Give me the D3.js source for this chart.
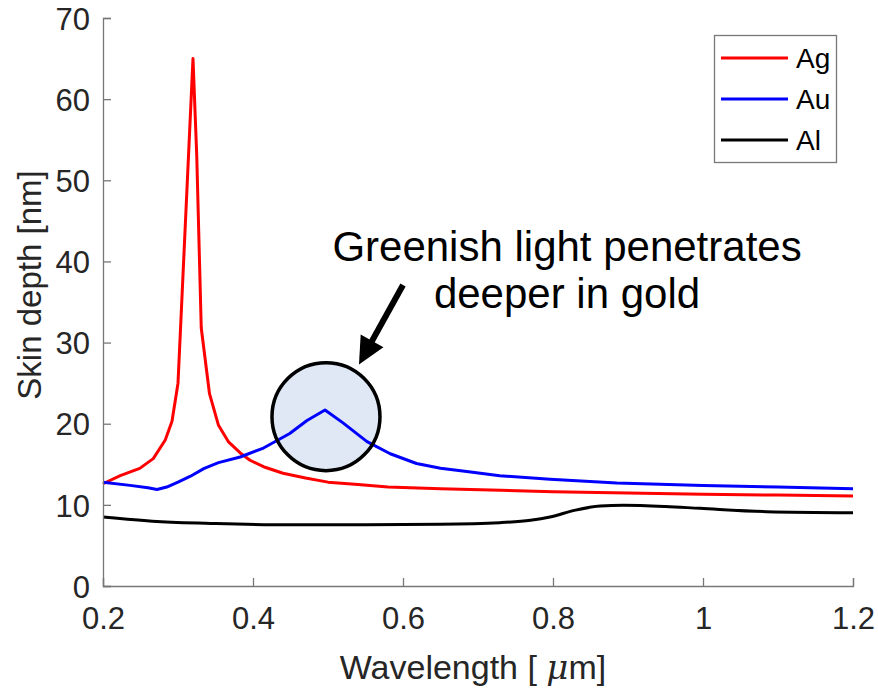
<!DOCTYPE html>
<html><head><meta charset="utf-8">
<script src="https://cdn.jsdelivr.net/npm/d3@7"></script>
<style>body{margin:0;background:#fff}svg{display:block}text{font-family:"Liberation Sans",Arial,sans-serif}</style>
</head><body><svg id="c" width="878" height="689"></svg>
<script>
const agX=[0.200,0.223,0.249,0.267,0.283,0.292,0.300,0.320,0.325,0.331,0.342,0.354,0.367,0.383,0.396,0.414,0.440,0.470,0.500,0.540,0.580,0.650,0.730,0.800,0.900,1.000,1.100,1.200];
const agY=[12.6,13.6,14.5,15.7,18.0,20.3,25.0,65.0,53.0,31.8,23.7,19.8,17.8,16.4,15.5,14.7,13.9,13.3,12.8,12.5,12.2,12.0,11.8,11.6,11.45,11.3,11.2,11.1];
const auX=[0.200,0.236,0.260,0.272,0.285,0.300,0.316,0.335,0.354,0.383,0.414,0.449,0.472,0.496,0.520,0.552,0.583,0.618,0.650,0.685,0.729,0.796,0.885,1.000,1.100,1.200];
const auY=[12.8,12.4,12.1,11.9,12.2,12.8,13.5,14.5,15.2,15.9,17.0,18.8,20.4,21.7,20.1,17.8,16.3,15.1,14.5,14.1,13.6,13.15,12.7,12.4,12.2,12.0];
const alX=[0.200,0.272,0.350,0.450,0.550,0.650,0.729,0.770,0.796,0.830,0.863,0.894,0.950,0.996,1.085,1.200];
const alY=[8.5,7.95,7.7,7.55,7.55,7.6,7.8,8.1,8.5,9.35,9.85,9.95,9.8,9.57,9.16,9.03];
const seriesNames=["Ag","Au","Al"];
const seriesColors=["#ff0000","#0000ff","#000000"];
const xTicks=[0.2,0.4,0.6,0.8,1,1.2];
const yTicks=[0,10,20,30,40,50,60,70];
const noteLines=["Greenish light penetrates","deeper in gold"];
// annotation anchors in data units
const circleCenter=[0.4973,20.87];
const arrowTail=[0.600,37.1], arrowTip=[0.5413,27.3];
const noteAnchor=[0.8187,40.0];

const svg=d3.select("#c");
const x=d3.scaleLinear().domain([0.2,1.2]).range([103,853]);
const y=d3.scaleLinear().domain([0,70]).range([586,18]);

svg.append("circle").attr("cx",x(circleCenter[0])).attr("cy",y(circleCenter[1])).attr("r",54)
  .attr("fill","#dfe8f4").attr("stroke","none");

const series=[[agX,agY,d3.curveLinear],[auX,auY,d3.curveLinear],[alX,alY,d3.curveMonotoneX]];
series.forEach((s,i)=>{
  const pts=s[0].map((v,j)=>[v,s[1][j]]);
  svg.append("path").datum(pts).attr("fill","none").attr("stroke",seriesColors[i]).attr("stroke-width",3)
   .attr("stroke-linejoin","round")
   .attr("d",d3.line().x(d=>x(d[0])).y(d=>y(d[1])).curve(s[2]));
});

svg.append("circle").attr("cx",x(circleCenter[0])).attr("cy",y(circleCenter[1])).attr("r",54)
  .attr("fill","none").attr("stroke","#000").attr("stroke-width",3.5);

const xa=svg.append("g").attr("transform","translate(0,586)")
  .call(d3.axisBottom(x).tickValues(xTicks).tickSize(-8).tickPadding(14).tickFormat(d3.format("")));
const ya=svg.append("g").attr("transform","translate(103,0)")
  .call(d3.axisLeft(y).tickValues(yTicks).tickSize(-8).tickPadding(13));
[xa,ya].forEach(a=>{
  a.select(".domain").attr("stroke","#777").attr("stroke-width",1.3);
  a.selectAll(".tick line").attr("stroke","#777").attr("stroke-width",1.3);
  a.selectAll(".tick text").attr("fill","#262626").style("font-size","31px").style("font-family","'Liberation Sans',Arial,sans-serif");
});
xa.selectAll(".tick text").attr("dy","0.93em");
ya.selectAll(".tick text").attr("dy","0.36em");

const xt=svg.append("text").attr("x",473).attr("y",679).attr("text-anchor","middle").attr("fill","#262626").style("font-size","34px");
xt.append("tspan").text("Wavelength [ ");
xt.append("tspan").text("μ").style("font-style","italic").style("font-family","'DejaVu Serif','Liberation Serif',serif");
xt.append("tspan").text("m]");
svg.append("text").attr("transform","translate(41,285) rotate(-90)").attr("text-anchor","middle")
  .attr("fill","#262626").style("font-size","33px").text("Skin depth [nm]");

const tx=x(arrowTail[0]),ty=y(arrowTail[1]),hx=x(arrowTip[0]),hy=y(arrowTip[1]);
const ang=Math.atan2(hy-ty,hx-tx), hl=27, hw=13;
const bx=hx-hl*Math.cos(ang), by=hy-hl*Math.sin(ang);
svg.append("line").attr("x1",tx).attr("y1",ty).attr("x2",bx+3*Math.cos(ang)).attr("y2",by+3*Math.sin(ang))
  .attr("stroke","#000").attr("stroke-width",6);
svg.append("path").attr("fill","#000").attr("d",
  `M${hx},${hy}L${bx+hw*Math.sin(ang)},${by-hw*Math.cos(ang)}L${bx-hw*Math.sin(ang)},${by+hw*Math.cos(ang)}Z`);

noteLines.forEach((t,i)=>{
  svg.append("text").attr("x",x(noteAnchor[0])).attr("y",y(noteAnchor[1])+i*47).attr("text-anchor","middle")
   .attr("fill","#000").style("font-size","42px").text(t);
});

const lg=svg.append("g");
lg.append("rect").attr("x",714.5).attr("y",35.5).attr("width",122).attr("height",127).attr("fill","#fff").attr("stroke","#777").attr("stroke-width",1.3);
seriesNames.forEach((n,i)=>{
  const yy=58+i*41;
  lg.append("line").attr("x1",721).attr("x2",788).attr("y1",yy).attr("y2",yy).attr("stroke",seriesColors[i]).attr("stroke-width",3);
  lg.append("text").attr("x",796).attr("y",yy).attr("dy","0.36em").attr("fill","#000").style("font-size","28px").text(n);
});
</script></body></html>
